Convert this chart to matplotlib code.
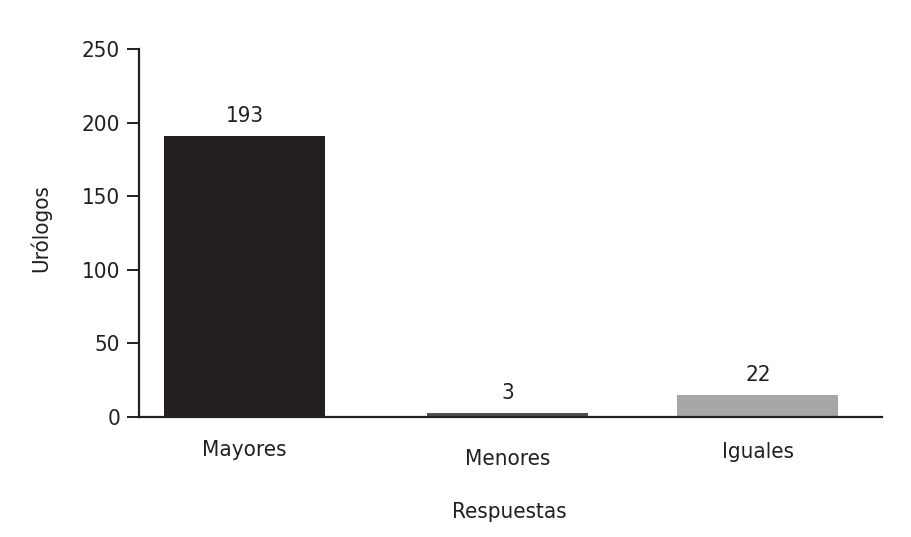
import matplotlib
matplotlib.use("Agg")
import matplotlib.pyplot as plt

# data
categories = ["Mayores", "Menores", "Iguales"]
heights = [191, 2.7, 15]          # drawn bar heights
value_labels = ["193", "3", "22"]  # printed numbers
bar_colors = ["#231f20", "#505050", "#a7a7a9"]
yticks = [0, 50, 100, 150, 200, 250]

plt.rcParams["font.family"] = ["DejaVu Sans"]
plt.rcParams["font.stretch"] = "condensed"
txt = "#231f20"

fig = plt.figure(figsize=(9.12, 5.37), dpi=100)
ax = fig.add_axes([139/912, 1-416.7/537, 743/912, 367.7/537])

pos = [0, 1.054, 2.054]
ax.bar(pos, heights, width=0.644, color=bar_colors)
for x, h, lab in zip(pos, heights, value_labels):
    ax.annotate(lab, (x, h), xytext=(0, 7), textcoords="offset points",
                ha="center", va="bottom", fontsize=16, color=txt)

ax.set_xlim(-0.422, 2.55)
ax.set_ylim(0, 250)
ax.set_yticks(yticks)
ax.set_xticks(pos, categories)

for s in ["top", "right"]:
    ax.spines[s].set_visible(False)
for s in ["left", "bottom"]:
    ax.spines[s].set_linewidth(1.6)
    ax.spines[s].set_color(txt)

ax.tick_params(axis="y", length=8.5, width=1.4, pad=5, labelsize=16,
               colors=txt)
ax.tick_params(axis="x", length=0, labelsize=16, colors=txt)
for tick, pad in zip(ax.xaxis.get_major_ticks(), [17, 23, 18]):
    tick.set_pad(pad)

ax.set_xlabel("Respuestas", fontsize=16, color=txt)
ax.xaxis.set_label_coords(0.499, -0.232)
ax.set_ylabel("Urólogos", fontsize=16, color=txt)
ax.yaxis.set_label_coords(-0.118, 0.513)

fig.savefig("out.png", dpi=100)
